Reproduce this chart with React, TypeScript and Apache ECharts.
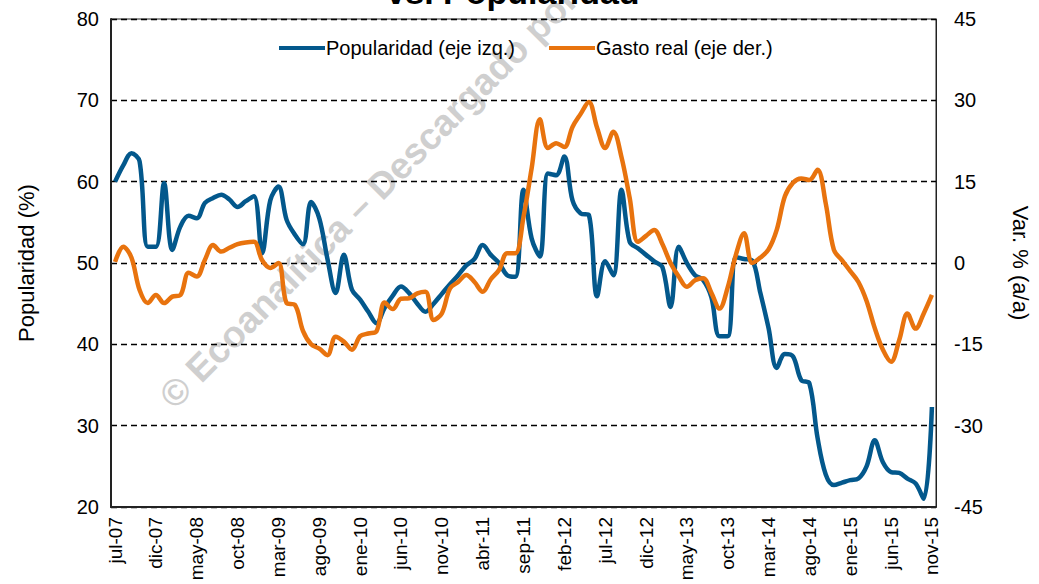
import { useEffect, useRef } from 'react';
import * as echarts from 'echarts';

const monthNames = ['ene', 'feb', 'mar', 'abr', 'may', 'jun', 'jul', 'ago', 'sep', 'oct', 'nov', 'dic'];
const startYear = 2007;
const startMonth = 6; // jul
const endYear = 2015;
const endMonth = 10; // nov

const categories: string[] = [];
for (let y = startYear; y <= endYear; y++) {
  for (let m = 0; m < 12; m++) {
    if (y === startYear && m < startMonth) continue;
    if (y === endYear && m > endMonth) continue;
    categories.push(`${monthNames[m]}-${String(y).slice(2)}`);
  }
}

const popularidad = [
  60.0, 62.0, 63.5, 62.5, 52.0, 52.0, 59.8, 51.6, 54.5, 55.8,
  55.5, 57.4, 58.0, 58.4, 57.8, 56.9, 57.6, 58.2, 51.2, 57.7,
  59.4, 55.3, 53.5, 52.3, 57.5, 55.5, 50.5, 46.3, 51.0, 46.7,
  45.5, 44.0, 42.6, 44.5, 46.0, 47.1, 46.3, 45.0, 44.0, 45.0,
  46.2, 47.4, 48.5, 49.7, 50.5, 52.2, 51.0, 50.0, 48.5, 48.3,
  59.0, 53.0, 50.8, 61.0, 60.8, 63.1, 57.7, 56.1, 55.9, 45.9,
  50.2, 48.5, 59.0, 52.6, 51.8, 51.0, 50.2, 49.5, 44.6, 52.0,
  50.0, 48.5, 47.9, 45.8, 41.0, 41.0, 50.7, 50.5, 50.3, 46.3,
  42.0, 37.1, 38.8, 38.5, 35.6, 35.2, 28.5, 24.0, 22.7, 23.0,
  23.3, 23.5, 25.0, 28.2, 25.5, 24.3, 24.2, 23.5, 22.9, 21.0,
  32.3,
];

const gastoReal = [
  0.2, 3.0, 1.0, -5.0, -7.4, -5.9, -7.4, -6.2, -5.9, -1.8,
  -2.5, 0.6, 3.3, 2.1, 2.8, 3.5, 3.8, 3.9, 0.5, -0.9,
  0.0, -7.4, -7.7, -12.5, -15.0, -15.8, -17.0, -13.6, -14.5, -16.0,
  -13.5, -13.0, -12.6, -7.3, -8.5, -6.6, -6.5, -5.6, -5.3, -10.5,
  -9.3, -4.7, -3.5, -2.2, -3.5, -5.3, -3.0, -1.3, 1.8, 1.8,
  8.5, 17.5, 26.5, 21.2, 22.1, 21.4, 25.1, 27.5, 29.7, 25.0,
  21.2, 24.2, 19.5, 12.0, 3.9, 5.0, 6.1, 3.5, 0.0, -2.5,
  -4.4, -3.2, -2.8, -5.5, -8.4, -4.5, 1.5, 5.5, 0.0, 1.0,
  2.5, 6.1, 12.3, 14.8, 15.6, 15.3, 17.2, 11.0, 2.4, 0.5,
  -1.5, -3.5, -7.0, -12.0, -16.0, -18.2, -14.2, -9.3, -12.1, -9.3,
  -5.9,
];

const seriesNames = ['Popularidad (eje izq.)', 'Gasto real (eje der.)'];
const titleText = 'vs. Popularidad';
const watermarkText = '© Ecoanalítica – Descargado por';

const FONT = "'Liberation Sans', Arial, Helvetica, sans-serif";
const BLUE = '#03588C';
const ORANGE = '#E8730E';

export default function App() {
  const ref = useRef<HTMLDivElement>(null);

  useEffect(() => {
    document.body.style.margin = '0';
    if (!ref.current) return;
    const chart = echarts.init(ref.current, undefined, { renderer: 'svg' });
    chart.setOption({
      animation: false,
      backgroundColor: '#ffffff',
      textStyle: { fontFamily: FONT },
      graphic: [
        {
          type: 'text',
          z: 0,
          x: 166,
          y: 402,
          rotation: 0.79,
          style: {
            text: watermarkText,
            fill: '#cfcfcf',
            font: `bold 37px ${FONT}`,
            textAlign: 'left',
            textVerticalAlign: 'middle',
          },
        },
        {
          type: 'text',
          x: 513,
          y: 9,
          style: {
            text: titleText,
            fill: '#000000',
            font: `bold 34px ${FONT}`,
            textAlign: 'center',
            textVerticalAlign: 'bottom',
          },
        },
      ],
      legend: {
        top: 33,
        left: 274,
        itemGap: 34,
        itemWidth: 46,
        itemHeight: 4,
        icon: 'rect',
        textStyle: { fontSize: 20, color: '#000', fontFamily: FONT, padding: [0, 0, 0, -4] },
        data: seriesNames,
      },
      grid: {
        left: 111,
        right: 102,
        top: 19,
        bottom: 77,
        show: true,
        borderColor: '#222',
        borderWidth: 1,
        backgroundColor: 'transparent',
      },
      xAxis: {
        type: 'category',
        data: categories,
        boundaryGap: true,
        axisLine: { onZero: false, lineStyle: { color: '#222', width: 2 } },
        axisTick: { show: false },
        axisLabel: {
          interval: 4,
          rotate: 90,
          margin: 10,
          fontSize: 19,
          color: '#000',
          fontFamily: FONT,
        },
        splitLine: { show: false },
      },
      yAxis: [
        {
          type: 'value',
          min: 20,
          max: 80,
          interval: 10,
          position: 'left',
          name: 'Popularidad (%)',
          nameLocation: 'middle',
          nameRotate: 90,
          nameGap: 74,
          nameTextStyle: { fontSize: 22, color: '#000', fontFamily: FONT },
          axisLine: { show: true, onZero: false, lineStyle: { color: '#222', width: 2 } },
          axisTick: { show: false },
          axisLabel: { fontSize: 20, color: '#000', margin: 12, fontFamily: FONT },
          splitLine: {
            show: true,
            lineStyle: { color: '#000', type: [6, 4], width: 1.3 },
          },
        },
        {
          type: 'value',
          min: -45,
          max: 45,
          interval: 15,
          position: 'right',
          name: 'Var. % (a/a)',
          nameLocation: 'middle',
          nameRotate: -90,
          nameGap: 73,
          nameTextStyle: { fontSize: 22, color: '#000', fontFamily: FONT },
          axisLine: { show: true, onZero: false, lineStyle: { color: '#222', width: 1 } },
          axisTick: { show: false },
          axisLabel: { fontSize: 20, color: '#000', margin: 18, fontFamily: FONT },
          splitLine: { show: false },
        },
      ],
      series: [
        {
          name: seriesNames[0],
          type: 'line',
          yAxisIndex: 0,
          data: popularidad,
          smooth: 0.35,
          symbol: 'none',
          z: 3,
          lineStyle: { color: BLUE, width: 4.5 },
          itemStyle: { color: BLUE },
        },
        {
          name: seriesNames[1],
          type: 'line',
          yAxisIndex: 1,
          data: gastoReal,
          smooth: 0.35,
          symbol: 'none',
          z: 4,
          lineStyle: { color: ORANGE, width: 4.5 },
          itemStyle: { color: ORANGE },
        },
      ],
    });
    return () => chart.dispose();
  }, []);

  return <div ref={ref} style={{ width: 1039, height: 584 }} />;
}
